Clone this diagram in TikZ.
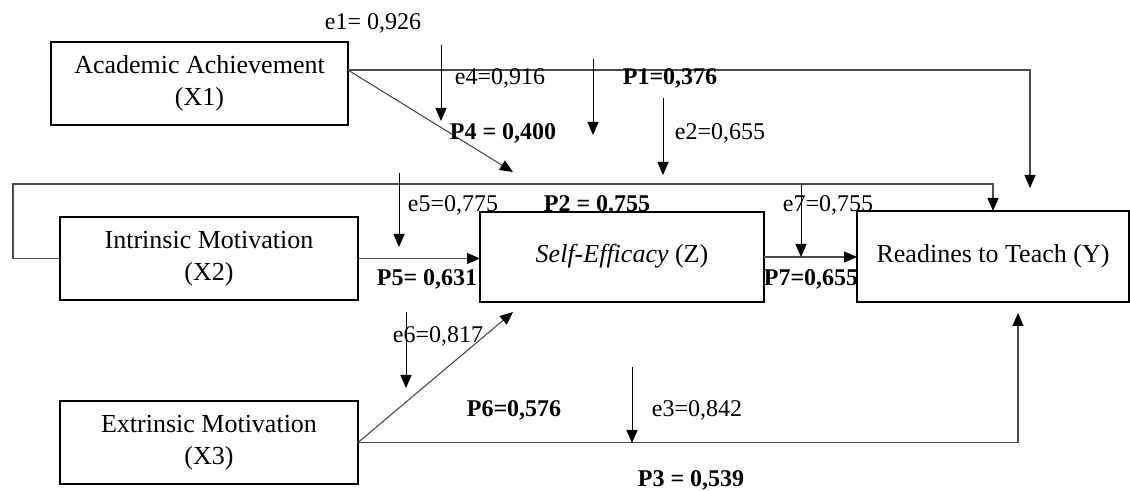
\documentclass[tikz,border=0pt]{standalone}
\usepackage{fontspec}
\setmainfont{Liberation Serif}
\usetikzlibrary{arrows.meta}

\begin{document}
\begin{tikzpicture}[x=0.5pt,y=-0.5pt,
  varbox/.style={draw, line width=0.9pt, align=center, inner sep=0pt, outer sep=0pt,
    font=\fontsize{13}{16}\selectfont},
  conn/.style={draw=black!70, line width=0.55pt, -{Triangle[width=5.5pt,length=6.5pt,color=black]}},
  errarr/.style={draw=black, line width=0.5pt, -{Triangle[width=5.5pt,length=6.5pt]}},
  elabel/.style={anchor=base, inner sep=0pt, font=\fontsize{12}{14}\selectfont},
  plabel/.style={elabel, font=\fontsize{12}{14}\selectfont\bfseries}]
  \useasboundingbox (0,0) rectangle (1130,491);

  \node[varbox, minimum width=148.5pt, minimum height=41.5pt] (ach) at (199.5,83.5) {Academic Achievement\\(X1)};
  \node[varbox, minimum width=149pt, minimum height=41.5pt] (intr) at (209,258.5) {Intrinsic Motivation\\(X2)};
  \node[varbox, minimum width=149pt, minimum height=41.5pt] (extr) at (209,442.5) {Extrinsic Motivation\\(X3)};
  \node[varbox, minimum width=142pt, minimum height=45pt] (self) at (622,257) {\raisebox{3.5pt}{\textit{Self-Efficacy} (Z)}};
  \node[varbox, minimum width=136pt, minimum height=45.5pt] (ready) at (993,256.5) {Readines to Teach (Y)};

  \coordinate (p1end) at (1030,188);
  \coordinate (p4end) at (513,172);
  \coordinate (p6end) at (513,312);
  \coordinate (p3end) at (1018,313);

  \draw[conn] ([yshift=6.75pt]ach.east) -| (p1end);
  \draw[conn] ([yshift=6.75pt]ach.east) -- (p4end);
  \draw[conn] (intr.west) -- ++(-47,0) |- ([yshift=13.5pt]ready.north) -- (ready.north);
  \draw[conn] (intr.east) -- (intr.east -| self.west);
  \draw[conn] (extr.east) -- (p6end);
  \draw[conn] (extr.east) -| (p3end);
  \draw[conn] (self.east) -- (self.east -| ready.west);

  \coordinate (e1top) at (441,45);   \coordinate (e1tip) at (441,121);
  \coordinate (e4top) at (593,59);   \coordinate (e4tip) at (593,135);
  \coordinate (e2top) at (663,98);   \coordinate (e2tip) at (663,175);
  \coordinate (e5top) at (399,173);  \coordinate (e5tip) at (399,247);
  \coordinate (e6top) at (406,312);  \coordinate (e6tip) at (406,388);
  \coordinate (e3top) at (632,367);  \coordinate (e3tip) at (632,443);
  \coordinate (e7top) at (801,184);  \coordinate (e7tip) at (801,257);
  \draw[errarr] (e1top) -- (e1tip);
  \draw[errarr] (e4top) -- (e4tip);
  \draw[errarr] (e2top) -- (e2tip);
  \draw[errarr] (e5top) -- (e5tip);
  \draw[errarr] (e6top) -- (e6tip);
  \draw[errarr] (e3top) -- (e3tip);
  \draw[errarr] (e7top) -- (e7tip);

  \node[elabel] (e1) at (373,30) {e1= 0,926};
  \node[elabel] (e4) at (500,85) {e4=0,916};
  \node[plabel] (p1) at (670,85) {P1=0,376};
  \node[plabel] (p4) at (503,140) {P4 = 0,400};
  \node[elabel] (e2) at (720,140) {e2=0,655};
  \node[elabel] (e5) at (453,212) {e5=0,775};
  \node[plabel] (p2) at (597,212) {P2 = 0.755};
  \node[elabel] (e7) at (828,212) {e7=0,755};
  \node[plabel] (p5) at (427,286) {P5= 0,631};
  \node[plabel] (p7) at (811,286) {P7=0,655};
  \node[elabel] (e6) at (438,343) {e6=0,817};
  \node[plabel] (p6) at (514,417) {P6=0,576};
  \node[elabel] (e3) at (697,417) {e3=0,842};
  \node[plabel] (p3) at (691,487) {P3 = 0,539};
\end{tikzpicture}
\end{document}
